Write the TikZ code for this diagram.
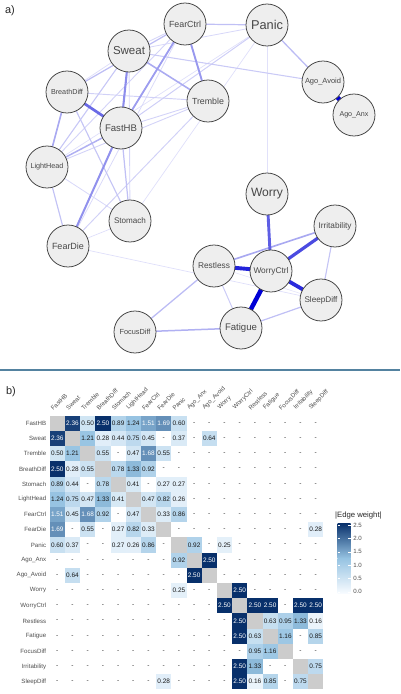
\documentclass[tikz,border=0pt]{standalone}
\usepackage{fontspec}
\setmainfont{Liberation Sans}
\setsansfont{Liberation Sans}
\usepackage{graphicx}
\usetikzlibrary{backgrounds}

\definecolor{qblue}{RGB}{0,0,213}
\definecolor{nodefill}{RGB}{238,238,238}
\definecolor{nodeline}{RGB}{68,68,68}
\definecolor{hmLow}{RGB}{247,251,255}
\definecolor{hmMid}{RGB}{150,195,226}
\definecolor{hmHigh}{RGB}{8,48,107}
\definecolor{axisgray}{RGB}{77,77,77}
\definecolor{sepline}{RGB}{84,130,160}

\newcommand{\nlab}[2][1.6cm]{\resizebox{#1}{!}{#2}}
\def\hmdiag{d}
\def\hmnone{n}

\tikzset{
  symp/.style={circle, draw=nodeline, line width=1.1pt, fill=nodefill,
    minimum size=2.1cm, inner sep=0pt, text=black!72},
  edge/.style={line cap=round},
  cell/.style={minimum size=0.76cm, inner sep=0pt, font=\fontsize{9.2}{10}\selectfont},
  axlab/.style={text=axisgray, font=\fontsize{8.7}{10}\selectfont, inner sep=1pt},
  panlab/.style={text=black!85, font=\fontsize{15.5}{16}\selectfont, inner sep=0pt},
}

\begin{document}
\begin{tikzpicture}[x=0.05cm, y=-0.05cm]
	\useasboundingbox (0,0) rectangle (400,694);

	% a) network
	\node [panlab] (la) at (10,11) {a)};
	\node [symp] (FearCtrl) at (185,24) {\nlab{FearCtrl}};
	\node [symp] (Panic) at (267,25) {\nlab{Panic}};
	\node [symp] (Sweat) at (129,51) {\nlab{Sweat}};
	\node [symp] (BreathDiff) at (67,92) {\nlab{BreathDiff}};
	\node [symp] (Tremble) at (208,101) {\nlab{Tremble}};
	\node [symp] (FastHB) at (121,128) {\nlab{FastHB}};
	\node [symp] (AgoAvoid) at (323,82) {\nlab[1.8cm]{Ago\_Avoid}};
	\node [symp] (AgoAnx) at (354,115) {\nlab[1.45cm]{Ago\_Anx}};
	\node [symp] (LightHead) at (47,167) {\nlab[1.65cm]{LightHead}};
	\node [symp] (Stomach) at (130,221) {\nlab{Stomach}};
	\node [symp] (FearDie) at (68,246) {\nlab{FearDie}};
	\node [symp] (Worry) at (267,194) {\nlab{Worry}};
	\node [symp] (Irritability) at (335,226) {\nlab[1.65cm]{Irritability}};
	\node [symp] (Restless) at (214,266) {\nlab{Restless}};
	\node [symp] (WorryCtrl) at (271,271) {\nlab[1.75cm]{WorryCtrl}};
	\node [symp] (SleepDiff) at (321,300) {\nlab[1.65cm]{SleepDiff}};
	\node [symp] (Fatigue) at (241,328) {\nlab{Fatigue}};
	\node [symp] (FocusDiff) at (135,332) {\nlab[1.55cm]{FocusDiff}};

	\begin{pgfonlayer}{background}
	\foreach \a/\b/\w in {Panic/Worry/0.04, Restless/SleepDiff/0.03, FearDie/SleepDiff/0.05,
		Stomach/FearDie/0.05, Stomach/Panic/0.05, LightHead/Panic/0.05, Sweat/BreathDiff/0.06,
		FearCtrl/FearDie/0.07, Sweat/Panic/0.08, Stomach/LightHead/0.08, Sweat/Stomach/0.09,
		Sweat/FearCtrl/0.09, FastHB/Tremble/0.1, Tremble/LightHead/0.1, LightHead/FearCtrl/0.1,
		Tremble/BreathDiff/0.11, Tremble/FearDie/0.11, FastHB/Panic/0.12, Restless/Fatigue/0.13,
		Sweat/AgoAvoid/0.14, Sweat/LightHead/0.15, BreathDiff/Stomach/0.16, Irritability/SleepDiff/0.16,
		LightHead/FearDie/0.17, FastHB/Stomach/0.18, FearCtrl/Panic/0.18, Fatigue/SleepDiff/0.18,
		BreathDiff/FearCtrl/0.19, Restless/FocusDiff/0.2, Panic/AgoAnx/0.2, FastHB/LightHead/0.25,
		Fatigue/FocusDiff/0.25, Sweat/Tremble/0.27, BreathDiff/LightHead/0.28, Restless/Irritability/0.28,
		FastHB/FearCtrl/0.33, Tremble/FearCtrl/0.35, FastHB/FearDie/0.38, FastHB/Sweat/0.4,
		FastHB/BreathDiff/0.55, Worry/WorryCtrl/0.6, WorryCtrl/Irritability/0.68, WorryCtrl/SleepDiff/0.82,
		WorryCtrl/Restless/0.85, WorryCtrl/Fatigue/1, AgoAvoid/AgoAnx/1}{
		\pgfmathsetmacro\s{8+92*\w}
		\pgfmathsetmacro\lw{(0.5+4*\w)*1.42}
		\draw [edge, draw=qblue!\s!white, line width=\lw pt] (\a) -- (\b);
	}
	\end{pgfonlayer}

	\draw [sepline, line width=2pt] (0,370) -- (400,370);

	% b) edge weight matrix
	\node [panlab] (lb) at (11,392) {b)};
	\foreach \lab [count=\i] in {FastHB,Sweat,Tremble,BreathDiff,Stomach,LightHead,FearCtrl,FearDie,Panic,
		Ago\_Anx,Ago\_Avoid,Worry,WorryCtrl,Restless,Fatigue,FocusDiff,Irritability,SleepDiff}{
		\node [axlab, anchor=east] (row-\i) at (47,{423.3+15.2*(\i-1)}) {\lab};
		\node [axlab, anchor=south west, rotate=45] (col-\i) at ({53.5+15.2*(\i-1)},412) {\lab};
	}
	\foreach \rdata [count=\r] in {
		{d,2.36,0.50,2.50,0.89,1.24,1.51,1.69,0.60,n,n,n,n,n,n,n,n,n},
		{2.36,d,1.21,0.28,0.44,0.75,0.45,n,0.37,n,0.64,n,n,n,n,n,n,n},
		{0.50,1.21,d,0.55,n,0.47,1.68,0.55,n,n,n,n,n,n,n,n,n,n},
		{2.50,0.28,0.55,d,0.78,1.33,0.92,n,n,n,n,n,n,n,n,n,n,n},
		{0.89,0.44,n,0.78,d,0.41,n,0.27,0.27,n,n,n,n,n,n,n,n,n},
		{1.24,0.75,0.47,1.33,0.41,d,0.47,0.82,0.26,n,n,n,n,n,n,n,n,n},
		{1.51,0.45,1.68,0.92,n,0.47,d,0.33,0.86,n,n,n,n,n,n,n,n,n},
		{1.69,n,0.55,n,0.27,0.82,0.33,d,n,n,n,n,n,n,n,n,n,0.28},
		{0.60,0.37,n,n,0.27,0.26,0.86,n,d,0.92,n,0.25,n,n,n,n,n,n},
		{n,n,n,n,n,n,n,n,0.92,d,2.50,n,n,n,n,n,n,n},
		{n,0.64,n,n,n,n,n,n,n,2.50,d,n,n,n,n,n,n,n},
		{n,n,n,n,n,n,n,n,0.25,n,n,d,2.50,n,n,n,n,n},
		{n,n,n,n,n,n,n,n,n,n,n,2.50,d,2.50,2.50,n,2.50,2.50},
		{n,n,n,n,n,n,n,n,n,n,n,n,2.50,d,0.63,0.95,1.33,0.16},
		{n,n,n,n,n,n,n,n,n,n,n,n,2.50,0.63,d,1.16,n,0.85},
		{n,n,n,n,n,n,n,n,n,n,n,n,n,0.95,1.16,d,n,n},
		{n,n,n,n,n,n,n,n,n,n,n,n,2.50,1.33,n,n,d,0.75},
		{n,n,n,n,n,n,n,0.28,n,n,n,n,2.50,0.16,0.85,n,0.75,d}}{
		\foreach \v [count=\c] in \rdata {
			\edef\hmv{\v}
			\ifx\hmv\hmdiag
				\node [cell, fill=black!20] (c-\r-\c) at ({57.3+15.2*(\c-1)},{423.3+15.2*(\r-1)}) {};
			\else\ifx\hmv\hmnone
				\node [cell, text=black!85] (c-\r-\c) at ({57.3+15.2*(\c-1)},{423.3+15.2*(\r-1)}) {-};
			\else
				\pgfmathsetmacro\pa{min(100,\v*80)}
				\pgfmathsetmacro\pb{max(0,(\v-1.25)*80)}
				\pgfmathsetmacro\tw{\v>1.45 ? 100 : 0}
				\colorlet{hmtmp}{hmMid!\pa!hmLow}
				\colorlet{hmfill}{hmHigh!\pb!hmtmp}
				\node [cell, fill=hmfill, text=white!\tw!black!90] (c-\r-\c) at ({57.3+15.2*(\c-1)},{423.3+15.2*(\r-1)}) {\v};
			\fi\fi
		}
	}

	% legend
	\node [anchor=west, inner sep=0pt, text=black!85, font=\fontsize{11}{12}\selectfont] (legt) at (335,516) {|Edge weight|};
	\shade [top color=hmHigh, bottom color=hmMid] (337.5,523) rectangle (350.5,558.3);
	\shade [top color=hmMid, bottom color=hmLow] (337.5,558.3) rectangle (350.5,593);
	\foreach \t [count=\k] in {0.0,0.5,1.0,1.5,2.0,2.5}{
		\draw [white, line width=0.4pt] (337.5,{591.7-26.7*\t}) -- ++(2.6,0);
		\draw [white, line width=0.4pt] (350.5,{591.7-26.7*\t}) -- ++(-2.6,0);
		\node [axlab, anchor=west] (tick-\k) at (352.5,{591.7-26.7*\t}) {\t};
	}
\end{tikzpicture}
\end{document}
